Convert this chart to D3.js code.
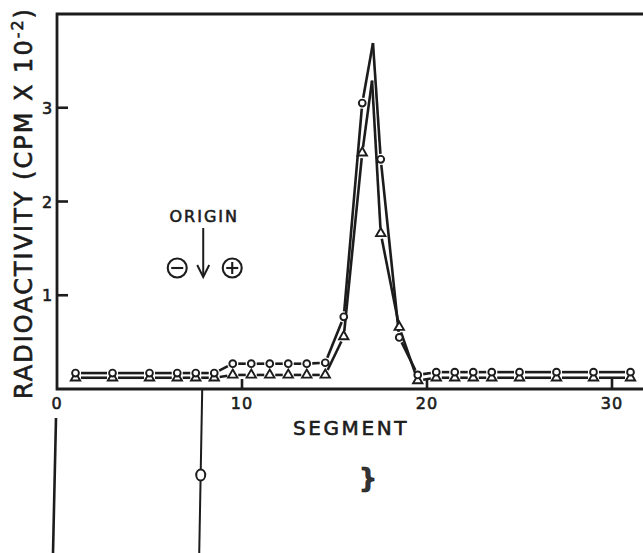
<!DOCTYPE html>
<html>
<head>
<meta charset="utf-8">
<script src="https://cdn.jsdelivr.net/npm/d3@7"></script>
<style>
  body { margin: 0; background: #fff; }
  text { font-family: "DejaVu Sans", sans-serif; fill: #1c1c1c; stroke: #1c1c1c; stroke-width: 0.6; }
</style>
</head>
<body>
<div id="chart"></div>
<script>
// size of the page / picture
const width = 643;
const height = 553;

// segment positions (first and last ones are pooled pairs)
const segments = [1, 3, 5, 6.5, 7.5, 8.5, 9.5, 10.5, 11.5, 12.5, 13.5, 14.5,
  15.5, 16.5, 17.5, 18.5, 19.5, 20.5, 21.5, 22.5, 23.5, 25, 27, 29, 31];

// open circles (CPM x 10^-2)
const circleValues = [0.17, 0.17, 0.17, 0.17, 0.17, 0.17, 0.27, 0.27, 0.27, 0.27, 0.27, 0.28,
  0.77, 3.05, 2.45, 0.55, 0.15, 0.18, 0.18, 0.18, 0.18, 0.18, 0.18, 0.18, 0.18];

// open triangles (CPM x 10^-2)
const triangleValues = [0.12, 0.12, 0.12, 0.12, 0.12, 0.12, 0.15, 0.15, 0.15, 0.15, 0.15, 0.15,
  0.56, 2.52, 1.66, 0.66, 0.09, 0.12, 0.12, 0.12, 0.12, 0.12, 0.12, 0.12, 0.12];

// hand-drawn peak apex of each curve (no marker there)
const circleApex = {s: 17.08, v: 3.69};
const triangleApex = {s: 17.03, v: 3.29};

// axis ticks
const xTicks = [0, 10, 20, 30];
const yTicks = [1, 2, 3];
const originSegment = 7.85;

const ink = "#1c1c1c";

const svg = d3.select("#chart")
  .append("svg")
  .attr("width", width)
  .attr("height", height);

svg.append("rect").attr("width", width).attr("height", height).attr("fill", "#fff");

const x = d3.scaleLinear().domain([0, 30]).range([57, 612]);
const y = d3.scaleLinear().domain([0, 4]).range([389, 14]);

// frame (top and left), bottom axis runs off the right edge
svg.append("path")
  .attr("d", `M${width + 5},${y(4)} H${x(0)} V${y(0)} H${width + 5}`)
  .attr("fill", "none")
  .attr("stroke", ink)
  .attr("stroke-width", 2.8);

// y ticks point inward
svg.selectAll(".ytick")
  .data(yTicks)
  .enter()
  .append("line")
    .attr("x1", x(0))
    .attr("x2", x(0) + 11)
    .attr("y1", d => y(d))
    .attr("y2", d => y(d))
    .attr("stroke", ink)
    .attr("stroke-width", 2.6);

svg.selectAll(".ylab")
  .data(yTicks)
  .enter()
  .append("text")
    .attr("x", x(0) - 10)
    .attr("y", d => y(d) + 6)
    .attr("text-anchor", "middle")
    .attr("font-size", 16)
    .text(d => d);

// x ticks point up (no tick at 0, it is the corner)
svg.selectAll(".xtick")
  .data(xTicks.filter(d => d > 0))
  .enter()
  .append("line")
    .attr("x1", d => x(d))
    .attr("x2", d => x(d))
    .attr("y1", y(0))
    .attr("y2", y(0) - 10)
    .attr("stroke", ink)
    .attr("stroke-width", 2.6);

svg.selectAll(".xlab")
  .data(xTicks)
  .enter()
  .append("text")
    .attr("x", d => x(d))
    .attr("y", y(0) + 20)
    .attr("text-anchor", "middle")
    .attr("font-size", 16)
    .attr("letter-spacing", 1)
    .text(d => d);

// axis titles
svg.append("text")
  .attr("x", 351)
  .attr("y", 435)
  .attr("text-anchor", "middle")
  .attr("font-size", 20)
  .attr("letter-spacing", 2.6)
  .text("SEGMENT");

const ylab = svg.append("text")
  .attr("transform", "translate(32,203) rotate(-90)")
  .attr("text-anchor", "middle")
  .attr("font-size", 24)
  .attr("letter-spacing", 2);
ylab.append("tspan").text("RADIOACTIVITY (CPM X 10");
ylab.append("tspan").attr("dy", -9).attr("font-size", 16).text("-2");
ylab.append("tspan").attr("dy", 9).text(")");

// build each curve: points in order, apex without marker
function curve(values, apex) {
  const pts = segments.map((s, i) => ({s: s, v: values[i], mark: true}));
  const k = pts.findIndex(p => p.s > apex.s);
  pts.splice(k, 0, {s: apex.s, v: apex.v, mark: false});
  return pts;
}

// lines stop short of the open markers, as in the drawing
const gap = 5.5;
function drawLine(pts, cls) {
  const segs = [];
  for (let i = 0; i < pts.length - 1; i++) {
    const a = pts[i], b = pts[i + 1];
    let x1 = x(a.s), y1 = y(a.v), x2 = x(b.s), y2 = y(b.v);
    const len = Math.hypot(x2 - x1, y2 - y1);
    const ux = (x2 - x1) / len, uy = (y2 - y1) / len;
    if (a.mark) { x1 += ux * gap; y1 += uy * gap; }
    if (b.mark) { x2 -= ux * gap; y2 -= uy * gap; }
    if (len > 2 * gap) segs.push([x1, y1, x2, y2]);
  }
  svg.selectAll("." + cls)
    .data(segs)
    .enter()
    .append("line")
      .attr("class", cls)
      .attr("x1", d => d[0]).attr("y1", d => d[1])
      .attr("x2", d => d[2]).attr("y2", d => d[3])
      .attr("stroke", ink)
      .attr("stroke-width", 2.6)
      .attr("stroke-linecap", "butt");
}

const circlePts = curve(circleValues, circleApex);
const trianglePts = curve(triangleValues, triangleApex);
drawLine(circlePts, "cline");
drawLine(trianglePts, "tline");

// markers
svg.selectAll(".tri")
  .data(trianglePts.filter(p => p.mark))
  .enter()
  .append("path")
    .attr("d", d3.symbol(d3.symbolTriangle, 38))
    .attr("transform", d => `translate(${x(d.s)},${y(d.v)})`)
    .attr("fill", "#fff")
    .attr("stroke", ink)
    .attr("stroke-width", 1.9);

svg.selectAll(".circ")
  .data(circlePts.filter(p => p.mark))
  .enter()
  .append("circle")
    .attr("cx", d => x(d.s))
    .attr("cy", d => y(d.v))
    .attr("r", 3.4)
    .attr("fill", "#fff")
    .attr("stroke", ink)
    .attr("stroke-width", 1.9);

// origin annotation
const ox = x(originSegment);
svg.append("text")
  .attr("x", ox + 2)
  .attr("y", 222)
  .attr("text-anchor", "middle")
  .attr("font-size", 16)
  .attr("letter-spacing", 2)
  .text("ORIGIN");

svg.append("line")
  .attr("x1", ox + 1).attr("x2", ox + 1)
  .attr("y1", 228).attr("y2", 276)
  .attr("stroke", ink).attr("stroke-width", 2);
svg.append("path")
  .attr("d", `M${ox - 5},${265} L${ox + 1},${277} L${ox + 7},${265}`)
  .attr("fill", "none").attr("stroke", ink).attr("stroke-width", 2);

// minus and plus electrodes
const signs = [{dx: -25, plus: false}, {dx: 30, plus: true}];
signs.forEach(sg => {
  const cx = ox + sg.dx, cy = 268;
  svg.append("circle").attr("cx", cx).attr("cy", cy).attr("r", 9.5)
    .attr("fill", "none").attr("stroke", ink).attr("stroke-width", 2.1);
  svg.append("line").attr("x1", cx - 6).attr("x2", cx + 6).attr("y1", cy).attr("y2", cy)
    .attr("stroke", ink).attr("stroke-width", 2.1);
  if (sg.plus) {
    svg.append("line").attr("x1", cx).attr("x2", cx).attr("y1", cy - 6).attr("y2", cy + 6)
      .attr("stroke", ink).attr("stroke-width", 2.1);
  }
});

// lower panel: gel outline and origin line
svg.append("line")
  .attr("x1", x(0) - 1).attr("x2", x(0) - 4)
  .attr("y1", 418).attr("y2", height)
  .attr("stroke", ink).attr("stroke-width", 2.6);

svg.append("line")
  .attr("x1", ox).attr("x2", ox - 3)
  .attr("y1", y(0)).attr("y2", height)
  .attr("stroke", ink).attr("stroke-width", 2);
svg.append("ellipse")
  .attr("cx", ox - 1.5).attr("cy", 475).attr("rx", 4.5).attr("ry", 5.5)
  .attr("fill", "#fff").attr("stroke", ink).attr("stroke-width", 2);

// dark mark on the gel
svg.append("text")
  .attr("x", 368)
  .attr("y", 487)
  .attr("text-anchor", "middle")
  .attr("font-size", 26)
  .attr("font-weight", "bold")
  .style("fill", "#333")
  .text("}");
</script>
</body>
</html>
